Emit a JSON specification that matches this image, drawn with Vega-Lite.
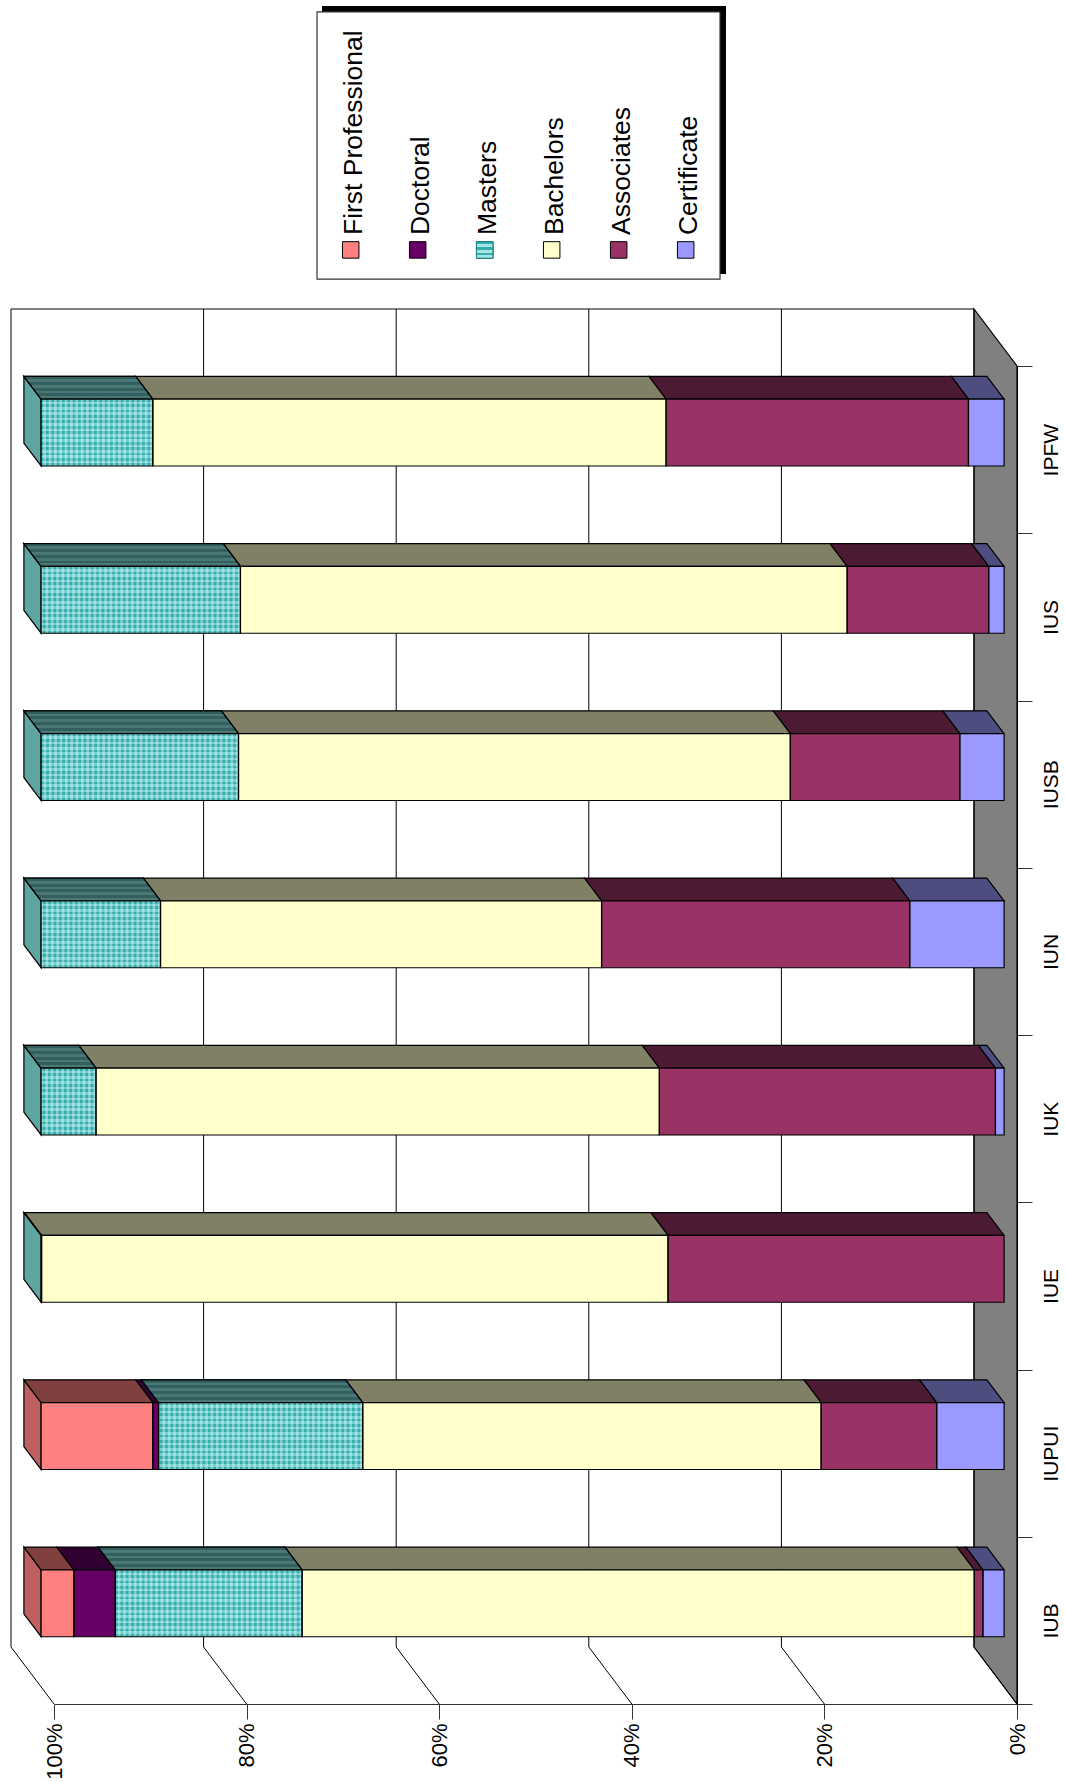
{
"$schema":"https://vega.github.io/schema/vega-lite/v6.json",
"width":1017,"height":1704,"autosize":{"type":"none"},"padding":{"left":0,"top":0,"right":48,"bottom":78},
"background":"white",
"config":{"view":{"stroke":null},"text":{"font":"Liberation Sans"},"axis":{"labelFont":"Liberation Sans"}},
"datasets":{
"shares":[
{"campus":"IUB","level":"Certificate","share":2.2},{"campus":"IUB","level":"Associates","share":0.9},{"campus":"IUB","level":"Bachelors","share":69.8},{"campus":"IUB","level":"Masters","share":19.4},{"campus":"IUB","level":"Doctoral","share":4.3},{"campus":"IUB","level":"First Professional","share":3.4},
{"campus":"IUPUI","level":"Certificate","share":7},{"campus":"IUPUI","level":"Associates","share":12},{"campus":"IUPUI","level":"Bachelors","share":47.6},{"campus":"IUPUI","level":"Masters","share":21.2},{"campus":"IUPUI","level":"Doctoral","share":0.6},{"campus":"IUPUI","level":"First Professional","share":11.6},
{"campus":"IUE","level":"Associates","share":34.9},{"campus":"IUE","level":"Bachelors","share":65.05},{"campus":"IUE","level":"Masters","share":0.05},
{"campus":"IUK","level":"Certificate","share":0.9},{"campus":"IUK","level":"Associates","share":34.9},{"campus":"IUK","level":"Bachelors","share":58.5},{"campus":"IUK","level":"Masters","share":5.7},
{"campus":"IUN","level":"Certificate","share":9.8},{"campus":"IUN","level":"Associates","share":32},{"campus":"IUN","level":"Bachelors","share":45.8},{"campus":"IUN","level":"Masters","share":12.4},
{"campus":"IUSB","level":"Certificate","share":4.6},{"campus":"IUSB","level":"Associates","share":17.6},{"campus":"IUSB","level":"Bachelors","share":57.3},{"campus":"IUSB","level":"Masters","share":20.5},
{"campus":"IUS","level":"Certificate","share":1.6},{"campus":"IUS","level":"Associates","share":14.7},{"campus":"IUS","level":"Bachelors","share":63},{"campus":"IUS","level":"Masters","share":20.7},
{"campus":"IPFW","level":"Certificate","share":3.7},{"campus":"IPFW","level":"Associates","share":31.4},{"campus":"IPFW","level":"Bachelors","share":53.3},{"campus":"IPFW","level":"Masters","share":11.6}
],
"levels":[{"level":"First Professional"},{"level":"Doctoral"},{"level":"Masters"},{"level":"Bachelors"},{"level":"Associates"},{"level":"Certificate"}],
"ticks":[{"pct":0},{"pct":20},{"pct":40},{"pct":60},{"pct":80},{"pct":100}],
"depths":[{"d":0},{"d":1}]
},
"resolve":{"scale":{"fill":"independent"},"axis":{"x":"independent","y":"independent"}},
"layer":[
{"data":{"name":"depths"},
 "transform":[{"calculate":"datum.d*4.465","as":"fx"},{"calculate":"datum.d*0.3408","as":"fy0"},{"calculate":"8+datum.d*0.3408","as":"fy1"}],
 "mark":{"type":"area","orient":"vertical","fill":"#808080","stroke":"black","strokeWidth":1.2},
 "encoding":{
  "x":{"field":"fx","type":"quantitative","stack":null,"scale":{"domain":[0,100],"range":[1017,54]},
   "axis":{"values":[0,20,40,60,80,100],"title":null,"grid":false,"labelExpr":"datum.value+'%'","labelAngle":270,"labelAlign":"right","labelBaseline":"middle","labelFontSize":22,"labelColor":"black","labelPadding":4,"tickSize":15,"tickColor":"#333","domainColor":"#333","labelOverlap":false,"labelBound":false,"labelFlush":false}},
  "y":{"field":"fy0","type":"quantitative","stack":null,"scale":{"domain":[0,8],"range":[1704,366]},
   "axis":{"orient":"right","values":[0,1,2,3,4,5,6,7,8],"title":null,"grid":false,"labelExpr":"['IUB','IUPUI','IUE','IUK','IUN','IUSB','IUS','IPFW'][datum.value] || ''","labelAngle":270,"labelAlign":"center","labelBaseline":"alphabetic","labelFontSize":21,"labelColor":"black","labelPadding":25,"labelOffset":-83.6,"tickSize":15,"tickColor":"#333","domainColor":"black","labelOverlap":false,"labelBound":false,"labelFlush":false}},
  "y2":{"field":"fy1"}
 }},
{"data":{"name":"ticks"},
 "transform":[{"calculate":"datum.pct+4.465","as":"backPct"}],
 "layer":[
  {"mark":{"type":"rule","stroke":"black","strokeWidth":1},
   "encoding":{"x":{"field":"pct","type":"quantitative","scale":{"domain":[0,100],"range":[1017,54]},"axis":null},"x2":{"field":"backPct"},
    "y":{"datum":0,"type":"quantitative","scale":{"domain":[0,8],"range":[1704,366]},"axis":null},"y2":{"datum":0.3408}}},
  {"mark":{"type":"rule","stroke":"black","strokeWidth":1},
   "encoding":{"x":{"field":"backPct","type":"quantitative","scale":{"domain":[0,100],"range":[1017,54]},"axis":null},
    "y":{"datum":0.3408,"type":"quantitative","scale":{"domain":[0,8],"range":[1704,366]},"axis":null},"y2":{"datum":8.3408}}},
  {"mark":{"type":"rule","stroke":"black","strokeWidth":1},
   "transform":[{"filter":"datum.pct==0"}],
   "encoding":{"x":{"field":"backPct","type":"quantitative","scale":{"domain":[0,100],"range":[1017,54]},"axis":null},"x2":{"datum":104.465},
    "y":{"datum":8.3408,"type":"quantitative","scale":{"domain":[0,8],"range":[1704,366]},"axis":null}}}
 ]},
{"data":{"name":"shares"},
 "transform":[
  {"calculate":"indexof(['Certificate','Associates','Bachelors','Masters','Doctoral','First Professional'],datum.level)","as":"rank"},
  {"calculate":"indexof(['IUB','IUPUI','IUE','IUK','IUN','IUSB','IUS','IPFW'],datum.campus)","as":"slot"},
  {"stack":"share","groupby":["campus"],"sort":[{"field":"rank","order":"ascending"}],"as":["from","to"]},
  {"calculate":"[0.3,0.7]","as":"d"},
  {"flatten":["d"]},
  {"calculate":"datum.from+datum.d*4.465","as":"px0"},
  {"calculate":"datum.to+datum.d*4.465","as":"px1"},
  {"calculate":"datum.slot+0.3+datum.d*0.3408","as":"py0"},
  {"calculate":"datum.slot+0.7+datum.d*0.3408","as":"py1"},
  {"calculate":"(datum.py0+datum.py1)/2","as":"pyMid"},
  {"calculate":"datum.campus+' '+datum.level","as":"segment"}
 ],
 "resolve":{"scale":{"fill":"independent"}},
 "layer":[
  {"transform":[{"filter":"datum.to>99.97"}],
   "mark":{"type":"area","orient":"vertical","stroke":"black","strokeWidth":1.2},
   "encoding":{"x":{"field":"px1","type":"quantitative","stack":null,"scale":{"domain":[0,100],"range":[1017,54]},"axis":null},
    "y":{"field":"py0","type":"quantitative","stack":null,"scale":{"domain":[0,8],"range":[1704,366]},"axis":null},"y2":{"field":"py1"},
    "detail":{"field":"segment"},
    "fill":{"field":"level","type":"nominal","legend":null,"scale":{"domain":["First Professional","Masters"],"range":["#bf6060","#5fa5a2"]}}}},
  {"mark":{"type":"area","orient":"horizontal","stroke":"black","strokeWidth":1.2},
   "encoding":{"y":{"field":"py1","type":"quantitative","stack":null,"scale":{"domain":[0,8],"range":[1704,366]},"axis":null},
    "x":{"field":"px0","type":"quantitative","stack":null,"scale":{"domain":[0,100],"range":[1017,54]},"axis":null},"x2":{"field":"px1"},
    "detail":{"field":"segment"},
    "fill":{"field":"level","type":"nominal","legend":null,"scale":{"domain":["First Professional","Doctoral","Masters","Bachelors","Associates","Certificate"],"range":["#804040","#330033","#3f6e6b","#808066","#4d1a33","#4d4d80"]}}}},
  {"transform":[{"filter":"datum.level=='Masters' && datum.share>1"}],
   "mark":{"type":"area","orient":"horizontal","stroke":"black","strokeWidth":1.2,
    "fill":{"gradient":"linear","x1":0,"y1":0,"x2":0,"y2":1,"stops":[
     {"offset":0,"color":"#335f5e"},{"offset":0.125,"color":"#335f5e"},{"offset":0.125,"color":"#4a7877"},{"offset":0.25,"color":"#4a7877"},
     {"offset":0.25,"color":"#335f5e"},{"offset":0.375,"color":"#335f5e"},{"offset":0.375,"color":"#4a7877"},{"offset":0.5,"color":"#4a7877"},
     {"offset":0.5,"color":"#335f5e"},{"offset":0.625,"color":"#335f5e"},{"offset":0.625,"color":"#4a7877"},{"offset":0.75,"color":"#4a7877"},
     {"offset":0.75,"color":"#335f5e"},{"offset":0.875,"color":"#335f5e"},{"offset":0.875,"color":"#4a7877"},{"offset":1,"color":"#4a7877"}]}},
   "encoding":{"y":{"field":"py1","type":"quantitative","stack":null,"scale":{"domain":[0,8],"range":[1704,366]},"axis":null},
    "x":{"field":"px0","type":"quantitative","stack":null,"scale":{"domain":[0,100],"range":[1017,54]},"axis":null},"x2":{"field":"px1"},
    "detail":{"field":"segment"}}},
  {"transform":[{"filter":"datum.d==0.3"}],
   "mark":{"type":"rect"},
   "encoding":{"x":{"field":"px0","type":"quantitative","stack":null,"scale":{"domain":[0,100],"range":[1017,54]},"axis":null},"x2":{"field":"px1"},
    "y":{"field":"py0","type":"quantitative","stack":null,"scale":{"domain":[0,8],"range":[1704,366]},"axis":null},"y2":{"field":"py1"},
    "fill":{"field":"level","type":"nominal","legend":null,"scale":{"domain":["First Professional","Doctoral","Masters","Bachelors","Associates","Certificate"],"range":["#ff8080","#660066","#66ccc8","#ffffcc","#993366","#9999ff"]}}}},
  {"transform":[{"filter":"datum.d==0.3 && datum.level=='Masters' && datum.share>1"}],
   "mark":{"type":"rect",
    "fill":{"gradient":"linear","x1":0,"y1":0,"x2":0,"y2":1,"stops":[
     {"offset":0,"color":"#35adad"},{"offset":0.04,"color":"#35adad"},{"offset":0.04,"color":"#70d0d0"},{"offset":0.08,"color":"#70d0d0"},
     {"offset":0.08,"color":"#35adad"},{"offset":0.12,"color":"#35adad"},{"offset":0.12,"color":"#70d0d0"},{"offset":0.16,"color":"#70d0d0"},
     {"offset":0.16,"color":"#35adad"},{"offset":0.2,"color":"#35adad"},{"offset":0.2,"color":"#70d0d0"},{"offset":0.24,"color":"#70d0d0"},
     {"offset":0.24,"color":"#35adad"},{"offset":0.28,"color":"#35adad"},{"offset":0.28,"color":"#70d0d0"},{"offset":0.32,"color":"#70d0d0"},
     {"offset":0.32,"color":"#35adad"},{"offset":0.36,"color":"#35adad"},{"offset":0.36,"color":"#70d0d0"},{"offset":0.4,"color":"#70d0d0"},
     {"offset":0.4,"color":"#35adad"},{"offset":0.44,"color":"#35adad"},{"offset":0.44,"color":"#70d0d0"},{"offset":0.48,"color":"#70d0d0"},
     {"offset":0.48,"color":"#35adad"},{"offset":0.52,"color":"#35adad"},{"offset":0.52,"color":"#70d0d0"},{"offset":0.56,"color":"#70d0d0"},
     {"offset":0.56,"color":"#35adad"},{"offset":0.6,"color":"#35adad"},{"offset":0.6,"color":"#70d0d0"},{"offset":0.64,"color":"#70d0d0"},
     {"offset":0.64,"color":"#35adad"},{"offset":0.68,"color":"#35adad"},{"offset":0.68,"color":"#70d0d0"},{"offset":0.72,"color":"#70d0d0"},
     {"offset":0.72,"color":"#35adad"},{"offset":0.76,"color":"#35adad"},{"offset":0.76,"color":"#70d0d0"},{"offset":0.8,"color":"#70d0d0"},
     {"offset":0.8,"color":"#35adad"},{"offset":0.84,"color":"#35adad"},{"offset":0.84,"color":"#70d0d0"},{"offset":0.88,"color":"#70d0d0"},
     {"offset":0.88,"color":"#35adad"},{"offset":0.92,"color":"#35adad"},{"offset":0.92,"color":"#70d0d0"},{"offset":0.96,"color":"#70d0d0"},
     {"offset":0.96,"color":"#35adad"},{"offset":1,"color":"#35adad"}]}},
   "encoding":{"x":{"field":"px0","type":"quantitative","stack":null,"scale":{"domain":[0,100],"range":[1017,54]},"axis":null},"x2":{"field":"px1"},
    "y":{"field":"py0","type":"quantitative","stack":null,"scale":{"domain":[0,8],"range":[1704,366]},"axis":null},"y2":{"field":"py1"}}},
  {"transform":[{"filter":"datum.d==0.3 && datum.level=='Masters' && datum.share>1"}],
   "mark":{"type":"rule","stroke":"white","strokeOpacity":0.38,"strokeWidth":67,"strokeDash":[2.67,2.67]},
   "encoding":{"x":{"field":"px0","type":"quantitative","scale":{"domain":[0,100],"range":[1017,54]},"axis":null},"x2":{"field":"px1"},
    "y":{"field":"pyMid","type":"quantitative","scale":{"domain":[0,8],"range":[1704,366]},"axis":null}}},
  {"transform":[{"filter":"datum.d==0.3"}],
   "mark":{"type":"rect","filled":false,"stroke":"black","strokeWidth":1.2},
   "encoding":{"x":{"field":"px0","type":"quantitative","stack":null,"scale":{"domain":[0,100],"range":[1017,54]},"axis":null},"x2":{"field":"px1"},
    "y":{"field":"py0","type":"quantitative","stack":null,"scale":{"domain":[0,8],"range":[1704,366]},"axis":null},"y2":{"field":"py1"}}}
 ]},
{"data":{"name":"levels"},
 "transform":[
  {"calculate":"69.19-6.957*indexof(['First Professional','Doctoral','Masters','Bachelors','Associates','Certificate'],datum.level)","as":"keyPct"},
  {"calculate":"datum.keyPct-1.2","as":"labelPct"}
 ],
 "resolve":{"scale":{"fill":"independent"}},
 "layer":[
  {"transform":[{"filter":"datum.level=='Masters'"}],
   "mark":{"type":"rect","fill":"black"},
   "encoding":{"x":{"datum":72.17,"type":"quantitative","scale":{"domain":[0,100],"range":[1017,54]},"axis":null},"x2":{"datum":30.22},
    "y":{"datum":10.153,"type":"quantitative","scale":{"domain":[0,8],"range":[1704,366]},"axis":null},"y2":{"datum":8.55}}},
  {"transform":[{"filter":"datum.level=='Masters'"}],
   "mark":{"type":"rect","fill":"white","stroke":"#333","strokeWidth":1.2},
   "encoding":{"x":{"datum":72.69,"type":"quantitative","scale":{"domain":[0,100],"range":[1017,54]},"axis":null},"x2":{"datum":30.84},
    "y":{"datum":10.117,"type":"quantitative","scale":{"domain":[0,8],"range":[1704,366]},"axis":null},"y2":{"datum":8.52}}},
  {"mark":{"type":"point","shape":"square","filled":true,"size":272,"stroke":"black","strokeWidth":1,"opacity":1},
   "encoding":{"x":{"field":"keyPct","type":"quantitative","scale":{"domain":[0,100],"range":[1017,54]},"axis":null},
    "y":{"datum":8.694,"type":"quantitative","scale":{"domain":[0,8],"range":[1704,366]},"axis":null},
    "fill":{"field":"level","type":"nominal","legend":null,"scale":{"domain":["First Professional","Doctoral","Masters","Bachelors","Associates","Certificate"],"range":["#ff8080","#660066","#66ccc8","#ffffcc","#993366","#9999ff"]}}}},
  {"transform":[{"filter":"datum.level=='Masters'"}],
   "mark":{"type":"point","shape":"square","filled":true,"size":272,"stroke":"#1a8a8a","strokeWidth":1,"opacity":1,
    "fill":{"gradient":"linear","x1":0,"y1":0,"x2":0,"y2":1,"stops":[
     {"offset":0,"color":"#35adad"},{"offset":0.166,"color":"#35adad"},{"offset":0.166,"color":"#a8e4e4"},{"offset":0.333,"color":"#a8e4e4"},
     {"offset":0.333,"color":"#35adad"},{"offset":0.5,"color":"#35adad"},{"offset":0.5,"color":"#a8e4e4"},{"offset":0.666,"color":"#a8e4e4"},
     {"offset":0.666,"color":"#35adad"},{"offset":0.833,"color":"#35adad"},{"offset":0.833,"color":"#a8e4e4"},{"offset":1,"color":"#a8e4e4"}]}},
   "encoding":{"x":{"field":"keyPct","type":"quantitative","scale":{"domain":[0,100],"range":[1017,54]},"axis":null},
    "y":{"datum":8.694,"type":"quantitative","scale":{"domain":[0,8],"range":[1704,366]},"axis":null}}},
  {"mark":{"type":"text","angle":270,"align":"left","baseline":"alphabetic","fontSize":26.5,"font":"Liberation Sans","color":"black"},
   "encoding":{"x":{"field":"labelPct","type":"quantitative","scale":{"domain":[0,100],"range":[1017,54]},"axis":null},
    "y":{"datum":8.783,"type":"quantitative","scale":{"domain":[0,8],"range":[1704,366]},"axis":null},
    "text":{"field":"level"}}}
 ]}
]
}
